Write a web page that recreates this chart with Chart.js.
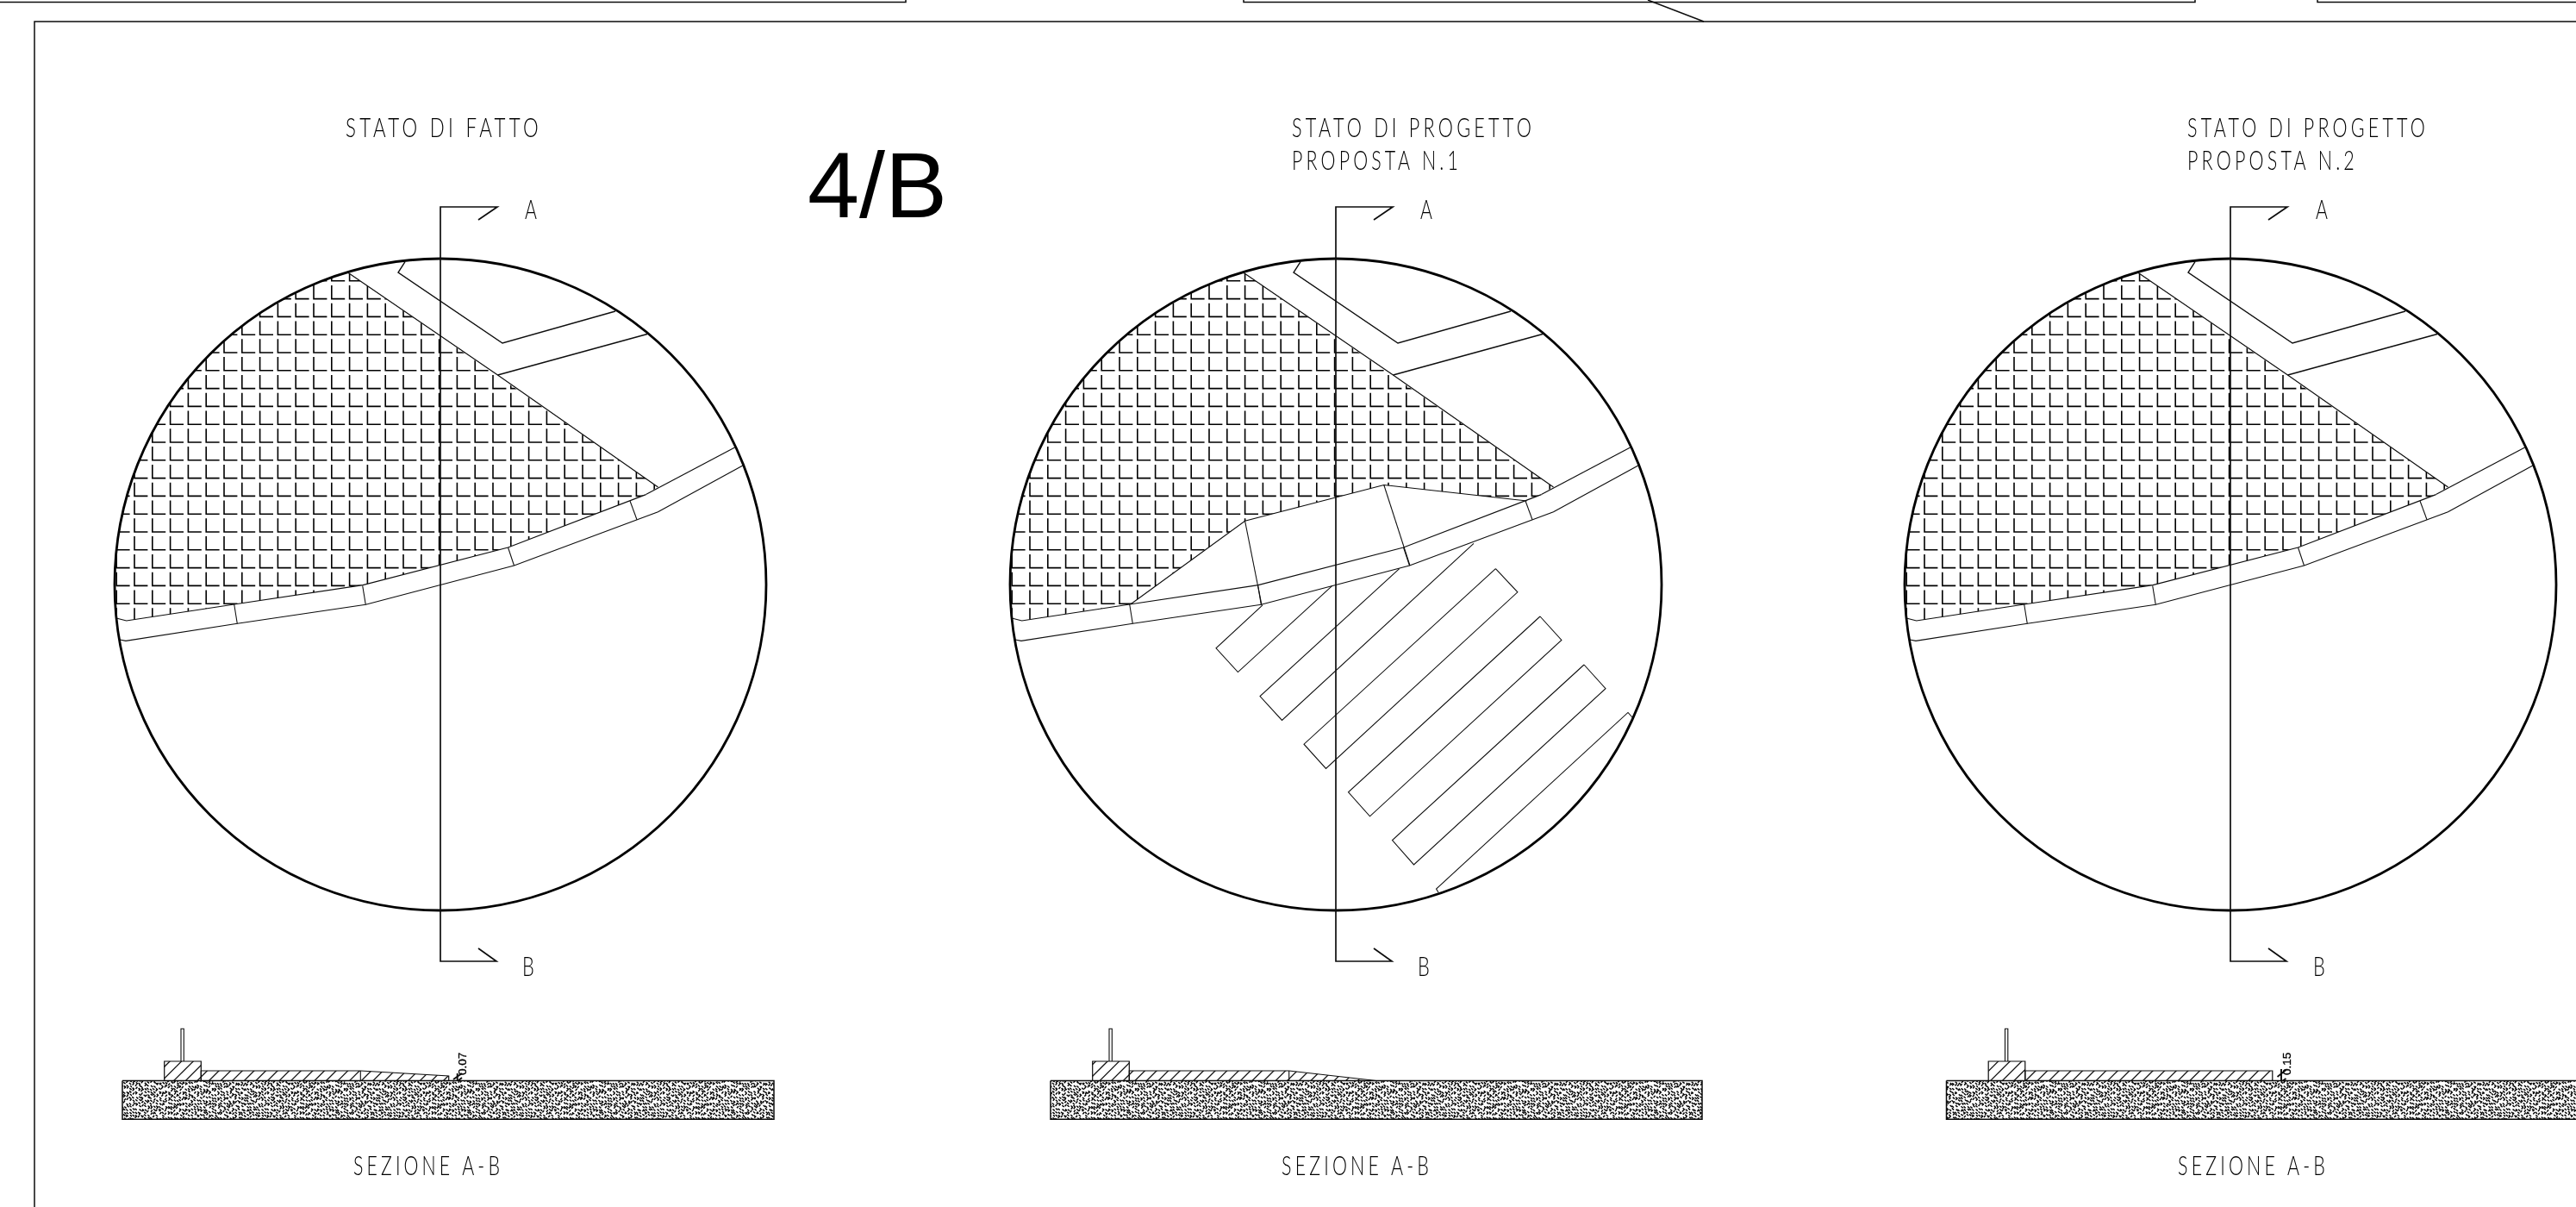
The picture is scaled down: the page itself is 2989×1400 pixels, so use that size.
<!DOCTYPE html>
<html>
<head>
<meta charset="utf-8">
<style>
  html, body { margin: 0; padding: 0; background: #fff; overflow: hidden; }
  canvas { display: block; }
</style>
<script src="https://cdn.jsdelivr.net/npm/chart.js@4"></script>
</head>
<body>
<canvas id="sheet" width="2989" height="1400"></canvas>
<script>
// Sheet 4/B - plan + section for each of the three options
// All shapes are in drawing units, drawn for the first panel and shifted for the others

const planOffsets = [0, 1039, 2077];
const sectionOffsets = [0, 1077, 2116.5];

const sheetFrame = [[40, 1400], [40, 25], [2989, 25]];
const topBoxes = [
    [[0, 2.5], [1051, 2.5], [1051, 0]],
    [[1443, 0], [1443, 2.5], [2547, 2.5], [2547, 0]],
    [[2989, 2.5], [2689, 2.5], [2689, 0]],
    [[1912, 0], [1977, 25]]
];

const circleCentre = [{ x: 511, y: 678 }];

const sectionLine = [[555, 255], [577, 240], [511, 240], [511, 1115], [576, 1115], [555, 1100]];

const buildingEdge = [[470, 303.6], [462, 316], [583, 398], [714, 361]];
const paddingEdge = [[403.5, 316], [577.5, 435], [763.5, 565]];
const paddingBranch = [[577.5, 435], [751, 387.5]];
const roadUpperRight = [[852.6, 519], [749.5, 573.6]];
const roadUpperExisting = [[749.5, 573.6], [589.5, 635], [421, 678.6], [271.7, 701], [146.7, 720], [136, 717.3]];
const roadLower = [[861.8, 540], [763.5, 593.7], [596.5, 656], [424.3, 701.3], [275.3, 723.3], [146, 743.3], [139, 742]];
const roadTicks = [
    [[731, 581], [739, 602.7]],
    [[589.5, 635], [596.5, 656]],
    [[420.7, 679.3], [424.3, 701.3]],
    [[271.7, 701], [275.3, 723.3]]
];

// points read along the circle, clockwise from the top of the paved area
const pavedArc = [[403.5, 316], [381.7, 322.8], [351.3, 335.4], [322, 350.6], [294.2, 368.4], [268, 388.4],
    [243.7, 410.7], [221.4, 435], [201.4, 461.2], [183.6, 489], [168.4, 518.3], [155.8, 548.7], [145.9, 580.2],
    [138.7, 612.4], [134.4, 645], [133, 678], [133.7, 701], [135.1, 717.5]];
const pavedExistingEdge = [[146.7, 720], [271.7, 701], [421, 678.6], [589.5, 635], [749.5, 573.6], [763.5, 565]];
const pavedRampEdge = [[147, 719.6], [273, 700.7], [405.6, 604.3], [566.8, 562.5], [732.6, 581], [750, 573], [763.5, 565]];

// proposal 1 only
const rampEdge = [[1312, 700.7], [1444.6, 604.3], [1605.8, 562.5], [1771.6, 581]];
const rampTicks = [
    [[1444.6, 604.3], [1464, 701.8]],
    [[1605.8, 562.5], [1636, 656]]
];
const parkingBays = [
    [[1465, 701.8], [1411, 751.8], [1436.4, 779.6], [1545.6, 679.6]],
    [[1623.7, 659.6], [1462, 807.5], [1487.5, 835.4], [1710, 630.4]],
    [[1735.4, 659.6], [1513, 863.2], [1538.5, 891.4], [1760.9, 686.8], [1735.4, 659.6]],
    [[1787, 715], [1564.5, 918.9], [1589.5, 946.8], [1811.9, 742.5], [1787, 715]],
    [[1838, 771], [1615.5, 974.6], [1640.5, 1002.9], [1863, 798.6], [1838, 771]],
    [[1669, 1035], [1666.5, 1031], [1889, 826.4], [1894, 832]]
];

// section
const groundBlock = [[142, 1253.5], [898, 1253.5], [898, 1298.3], [142, 1298.3], [142, 1253.5]];
const curbBlock = [[190.7, 1253.5], [190.7, 1231], [233.3, 1231], [233.3, 1253.5], [190.7, 1253.5]];
const fencePost = [[210, 1231], [210, 1193.3], [213.3, 1193.3], [213.3, 1231]];

const walkExisting = [[233.3, 1253.5], [233.3, 1242], [418.3, 1242], [520.7, 1248], [520.7, 1253.5], [233.3, 1253.5]];
const walkExistingJoint = [[418.3, 1242], [418.3, 1253.5]];
const walkProposal1 = [[233.3, 1253.5], [233.3, 1242], [418.7, 1242], [519.7, 1253.5], [233.3, 1253.5]];
const walkProposal1Joint = [[418.7, 1242], [418.7, 1253.5]];
const walkProposal2 = [[233.3, 1253.5], [233.3, 1242], [520.3, 1242], [520.3, 1253.5], [233.3, 1253.5]];

const levelMarkExisting = [[[530.7, 1245], [530.7, 1260]], [[526, 1252], [536, 1245]], [[526, 1258], [536, 1250]]];
const levelMarkProposal2 = [[[530.5, 1240], [530.5, 1260]], [[526, 1249], [536, 1241]], [[526, 1258], [536, 1251]]];

// texts
const cadLabels = ['STATO DI FATTO', 'STATO DI PROGETTO', 'PROPOSTA N.1', 'STATO DI PROGETTO', 'PROPOSTA N.2',
    'A', 'A', 'A', 'B', 'B', 'B', 'SEZIONE A-B', 'SEZIONE A-B', 'SEZIONE A-B'];
const cadLabelX = [401, 1499, 1499, 2538, 2538, 609, 1648, 2687, 606, 1645, 2684, 410, 1487, 2527];
const cadLabelY = [159, 159, 197, 159, 197, 254, 254, 254, 1132, 1132, 1132, 1363, 1363, 1363];
const cadLabelWidth = [224, 278, 193, 276, 194, 16, 16, 16, 16, 16, 16, 170, 171, 171];
const sheetNumber = '4/B';
const levelLabels = ['0.07', '0.15'];
const levelLabelX = [541, 2658];

const ink = '#0d0d0d';

// ---- fill patterns ----
const mainCanvas = document.getElementById('sheet');
const mainCtx = mainCanvas.getContext('2d');

function tile(size, paint) {
    const c = document.createElement('canvas');
    c.width = size;
    c.height = size;
    paint(c.getContext('2d'));
    return c;
}

// paving: rows of small L marks, pitch 20.8
const pavingTile = tile(104, g => {
    g.strokeStyle = '#000';
    g.lineWidth = 1.6;
    for (let i = 0; i < 5; i++) {
        for (let j = 0; j < 5; j++) {
            const x = 2 + i * 20.8, y = 18.8 + j * 20.8;
            g.beginPath();
            g.moveTo(x, y - 15.7);
            g.lineTo(x, y);
            g.lineTo(x + 15.4, y);
            g.stroke();
        }
    }
});
function pavingPattern(dx) {
    const p = mainCtx.createPattern(pavingTile, 'repeat');
    p.setTransform(new DOMMatrix().translate(Math.round(156.3 + dx - 2), Math.round(533.3 - 18.8)));
    return p;
}

const slantTile = tile(68, g => {
    g.strokeStyle = '#111';
    g.lineWidth = 1.25;
    for (let k = -5; k <= 5; k++) {
        g.beginPath();
        g.moveTo(k * 13.6, 68);
        g.lineTo(k * 13.6 + 68, 0);
        g.stroke();
    }
});
const slantPattern = mainCtx.createPattern(slantTile, 'repeat');

// gravel texture, short dark flecks on a jittered grid so it stays even
const gravelTile = tile(153, g => {
    let seed = 7;
    const next = () => { seed = (seed * 16807) % 2147483647; return seed / 2147483647; };
    g.fillStyle = '#fff';
    g.fillRect(0, 0, 153, 153);
    g.strokeStyle = '#000';
    g.lineWidth = 1.45;
    for (let i = 0; i < 45; i++) {
        for (let j = 0; j < 45; j++) {
            const x = i * 3.4 + next() * 1.8, y = j * 3.4 + next() * 1.8;
            const a = next() < 0.7 ? 0.7 : -0.9;
            g.beginPath();
            g.moveTo(x, y);
            g.lineTo(x + Math.cos(a) * 3, y + Math.sin(a) * 3);
            g.stroke();
        }
    }
});
const gravelPattern = mainCtx.createPattern(gravelTile, 'repeat');

// ---- datasets ----
const shift = (pts, dx) => pts.map(p => ({ x: p[0] + dx, y: p[1] }));
const datasets = [];

function line(pts, dx, width, extra) {
    datasets.push(Object.assign({
        data: shift(pts, dx),
        showLine: true,
        borderColor: ink,
        borderWidth: width || 1,
        pointRadius: 0,
        pointHoverRadius: 0,
        tension: 0,
        fill: false
    }, extra || {}));
}

line(sheetFrame, 0, 1.5);
topBoxes.forEach(b => line(b, 0, 1.5));

planOffsets.forEach((dx, panel) => {
    line(sectionLine, dx, 1.7);
    datasets.push({
        data: shift([[circleCentre[0].x, circleCentre[0].y]], dx),
        showLine: false,
        pointRadius: 378,
        pointHoverRadius: 378,
        pointBackgroundColor: 'rgba(0,0,0,0)',
        pointBorderColor: '#000',
        pointBorderWidth: 2.8
    });
    line(buildingEdge, dx, 1.4);
    line(paddingEdge, dx, 1.15);
    line(paddingBranch, dx, 1.4);
    line(roadUpperRight, dx, 1.15);
    line(roadLower, dx, 1.15);
    roadTicks.forEach(t => line(t, dx, 1.05));
    line(roadUpperExisting, dx, 1.15);
    const edge = panel === 1 ? pavedRampEdge : pavedExistingEdge;
    line(pavedArc.concat(edge), dx, 0.01, { fill: 'shape', backgroundColor: pavingPattern(dx), borderColor: 'rgba(0,0,0,0)' });
});

line(rampEdge, 0, 1.15);
rampTicks.forEach(t => line(t, 0, 1.05));
parkingBays.forEach(b => line(b, 0, 1.05));

const walks = [walkExisting, walkProposal1, walkProposal2];
sectionOffsets.forEach((dx, panel) => {
    line(groundBlock, dx, 1.5, { fill: 'shape', backgroundColor: gravelPattern });
    line(curbBlock, dx, 1.2, { fill: 'shape', backgroundColor: slantPattern });
    line(fencePost, dx, 1.1);
    line(walks[panel], dx, 1.2, { fill: 'shape', backgroundColor: slantPattern });
});
line(walkExistingJoint, 0, 1.1);
line(walkProposal1Joint, sectionOffsets[1], 1.1);
levelMarkExisting.forEach(m => line(m, 0, 1.9));
levelMarkProposal2.forEach(m => line(m, sectionOffsets[2], 1.9));

// ---- real text on top of the datasets ----
const sheetText = {
    id: 'sheetText',
    afterDatasetsDraw(chart) {
        const { ctx, scales } = chart;
        const px = v => scales.x.getPixelForValue(v);
        const py = v => scales.y.getPixelForValue(v);
        ctx.save();
        ctx.fillStyle = '#000';
        ctx.strokeStyle = '#000';
        ctx.textAlign = 'left';
        ctx.textBaseline = 'alphabetic';

        // wide tracking squeezed back by maxWidth gives the narrow CAD letters
        ctx.font = '300 31px Lato';
        ctx.letterSpacing = '6px';
        cadLabels.forEach((t, i) => {
            ctx.fillText(t, px(cadLabelX[i]), py(cadLabelY[i]), cadLabelWidth[i] + (t.length > 1 ? 4 : 2));
        });
        ctx.letterSpacing = '0px';

        ctx.font = '108px "Liberation Sans"';
        ctx.fillText(sheetNumber, px(937), py(252));

        ctx.font = '13.5px "Liberation Sans"';
        ctx.lineWidth = 0.35;
        levelLabels.forEach((t, i) => {
            ctx.save();
            ctx.translate(px(levelLabelX[i]), py(1247));
            ctx.rotate(-Math.PI / 2);
            ctx.fillText(t, 0, 0);
            ctx.strokeText(t, 0, 0);
            ctx.restore();
        });
        ctx.restore();
    }
};

new Chart(mainCanvas, {
    type: 'scatter',
    data: { datasets },
    plugins: [sheetText],
    options: {
        responsive: false,
        devicePixelRatio: 1,
        animation: false,
        events: [],
        layout: { padding: 0, autoPadding: false },
        plugins: { legend: { display: false }, tooltip: { enabled: false }, title: { display: false } },
        scales: {
            x: { type: 'linear', display: false, min: 0, max: 2989 },
            y: { type: 'linear', display: false, min: 0, max: 1400, reverse: true }
        }
    }
});
</script>
</body>
</html>
